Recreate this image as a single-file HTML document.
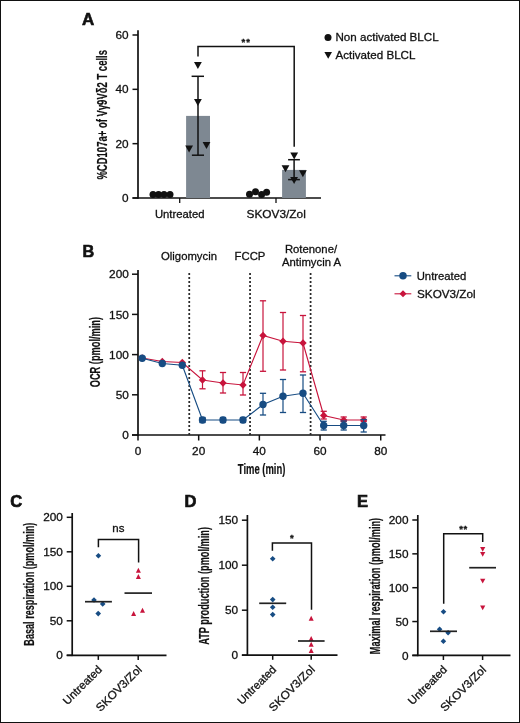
<!DOCTYPE html>
<html><head><meta charset="utf-8"><style>
html,body{margin:0;padding:0;background:#fff;}
.frame{position:relative;width:520px;height:723px;box-sizing:border-box;border:1px solid #111;overflow:hidden;background:#fff;}
svg{position:absolute;left:-1px;top:-1px;will-change:transform;}
text{font-family:"Liberation Sans", sans-serif;fill:#111;stroke:#111;stroke-width:0.3px;}
.cond{font-family:"Liberation Sans", sans-serif;font-weight:bold;stroke-width:0.2px;}
</style></head><body><div class="frame">
<svg width="520" height="723" viewBox="0 0 520 723">
<text x="81.9" y="24.6" font-size="16" font-weight="bold" style="stroke-width:0.6px" transform="translate(81.9,0) scale(1.06,1) translate(-81.9,0)">A</text>
<line x1="138" y1="30.3" x2="138" y2="198.8" stroke="#111" stroke-width="1.7" />
<line x1="132.5" y1="198" x2="321" y2="198" stroke="#111" stroke-width="1.7" />
<line x1="132.5" y1="198.0" x2="138" y2="198.0" stroke="#111" stroke-width="1.5" />
<text x="128.6" y="202.1" font-size="11.8" text-anchor="end" font-weight="normal" >0</text>
<line x1="132.5" y1="143.666" x2="138" y2="143.666" stroke="#111" stroke-width="1.5" />
<text x="128.6" y="147.766" font-size="11.8" text-anchor="end" font-weight="normal" >20</text>
<line x1="132.5" y1="89.33200000000001" x2="138" y2="89.33200000000001" stroke="#111" stroke-width="1.5" />
<text x="128.6" y="93.432" font-size="11.8" text-anchor="end" font-weight="normal" >40</text>
<line x1="132.5" y1="34.99800000000002" x2="138" y2="34.99800000000002" stroke="#111" stroke-width="1.5" />
<text x="128.6" y="39.09800000000002" font-size="11.8" text-anchor="end" font-weight="normal" >60</text>
<line x1="179.7" y1="198" x2="179.7" y2="203" stroke="#111" stroke-width="1.3" />
<line x1="276" y1="198" x2="276" y2="203" stroke="#111" stroke-width="1.3" />
<text x="179.7" y="217.6" font-size="11.3" text-anchor="middle" font-weight="normal" >Untreated</text>
<text x="276.2" y="217.6" font-size="11.5" text-anchor="middle" font-weight="normal" textLength="59.3" lengthAdjust="spacingAndGlyphs">SKOV3/Zol</text>
<text transform="translate(106.6,114.8) rotate(-90)" font-size="14.3" text-anchor="middle" textLength="129.6" lengthAdjust="spacingAndGlyphs" class="cond">%CD107a+ of V&#947;9V&#948;2 T cells</text>
<rect x="186.1" y="115.9" width="23.9" height="82.1" fill="#7e8892"/>
<rect x="282.1" y="169.9" width="23.8" height="28.1" fill="#7e8892"/>
<circle cx="153" cy="194.5" r="3.5" fill="#111"/>
<circle cx="158.5" cy="194.5" r="3.5" fill="#111"/>
<circle cx="164" cy="194.5" r="3.5" fill="#111"/>
<circle cx="170" cy="194.5" r="3.5" fill="#111"/>
<circle cx="249.5" cy="194.2" r="3.5" fill="#111"/>
<circle cx="255.5" cy="191.8" r="3.5" fill="#111"/>
<circle cx="261.6" cy="194.6" r="3.5" fill="#111"/>
<circle cx="266.6" cy="192.2" r="3.5" fill="#111"/>
<line x1="198" y1="76.3" x2="198" y2="155.2" stroke="#111" stroke-width="1.5" />
<line x1="191.6" y1="76.3" x2="204" y2="76.3" stroke="#111" stroke-width="1.5" />
<line x1="191.9" y1="155.2" x2="204" y2="155.2" stroke="#111" stroke-width="1.5" />
<line x1="294.1" y1="159.7" x2="294.1" y2="179.6" stroke="#111" stroke-width="1.5" />
<line x1="288.1" y1="159.7" x2="299.9" y2="159.7" stroke="#111" stroke-width="1.5" />
<line x1="288.1" y1="179.6" x2="299.9" y2="179.6" stroke="#111" stroke-width="1.5" />
<polygon points="194.0,62.099999999999994 201.8,62.099999999999994 197.9,69.1" fill="#111"/>
<polygon points="194.0,98.9 201.8,98.9 197.9,105.9" fill="#111"/>
<polygon points="185.2,145.5 193.0,145.5 189.1,152.5" fill="#111"/>
<polygon points="202.6,142.0 210.4,142.0 206.5,149.0" fill="#111"/>
<polygon points="290.3,152.5 298.09999999999997,152.5 294.2,159.5" fill="#111"/>
<polygon points="281.6,165.2 289.4,165.2 285.5,172.2" fill="#111"/>
<polygon points="299.0,170.2 306.79999999999995,170.2 302.9,177.2" fill="#111"/>
<polygon points="290.20000000000005,177.1 298.0,177.1 294.1,184.1" fill="#111"/>
<polyline points="198,56.5 198,46.5 294.2,46.5 294.2,146.8" fill="none" stroke="#111" stroke-width="1.5"/>
<text x="243.4" y="44.95" font-size="9.5" font-weight="bold" text-anchor="middle">*</text>
<text x="248.2" y="44.95" font-size="9.5" font-weight="bold" text-anchor="middle">*</text>
<circle cx="328" cy="37.6" r="3.5" fill="#111"/>
<text x="335.5" y="41.2" font-size="11.6" text-anchor="start" font-weight="normal" >Non activated BLCL</text>
<polygon points="324.4,52.0 332.0,52.0 328.2,58.8" fill="#111"/>
<text x="335.5" y="58.8" font-size="11.6" text-anchor="start" font-weight="normal" >Activated BLCL</text>
<text x="82.5" y="256.9" font-size="16.3" font-weight="bold" style="stroke-width:0.6px">B</text>
<line x1="138" y1="270" x2="138" y2="435.8" stroke="#111" stroke-width="1.7" />
<line x1="132" y1="435" x2="385.5" y2="435" stroke="#111" stroke-width="1.7" />
<line x1="132" y1="435.0" x2="138" y2="435.0" stroke="#111" stroke-width="1.5" />
<text x="128.8" y="439.1" font-size="11.8" text-anchor="end" font-weight="normal" >0</text>
<line x1="132" y1="394.8" x2="138" y2="394.8" stroke="#111" stroke-width="1.5" />
<text x="128.8" y="398.90000000000003" font-size="11.8" text-anchor="end" font-weight="normal" >50</text>
<line x1="132" y1="354.6" x2="138" y2="354.6" stroke="#111" stroke-width="1.5" />
<text x="128.8" y="358.70000000000005" font-size="11.8" text-anchor="end" font-weight="normal" >100</text>
<line x1="132" y1="314.4" x2="138" y2="314.4" stroke="#111" stroke-width="1.5" />
<text x="128.8" y="318.5" font-size="11.8" text-anchor="end" font-weight="normal" >150</text>
<line x1="132" y1="274.2" x2="138" y2="274.2" stroke="#111" stroke-width="1.5" />
<text x="128.8" y="278.3" font-size="11.8" text-anchor="end" font-weight="normal" >200</text>
<line x1="138.0" y1="435" x2="138.0" y2="440.5" stroke="#111" stroke-width="1.5" />
<text x="138.0" y="454.6" font-size="11.8" text-anchor="middle" font-weight="normal" >0</text>
<line x1="198.68" y1="435" x2="198.68" y2="440.5" stroke="#111" stroke-width="1.5" />
<text x="198.68" y="454.6" font-size="11.8" text-anchor="middle" font-weight="normal" >20</text>
<line x1="259.36" y1="435" x2="259.36" y2="440.5" stroke="#111" stroke-width="1.5" />
<text x="259.36" y="454.6" font-size="11.8" text-anchor="middle" font-weight="normal" >40</text>
<line x1="320.03999999999996" y1="435" x2="320.03999999999996" y2="440.5" stroke="#111" stroke-width="1.5" />
<text x="320.03999999999996" y="454.6" font-size="11.8" text-anchor="middle" font-weight="normal" >60</text>
<line x1="380.71999999999997" y1="435" x2="380.71999999999997" y2="440.5" stroke="#111" stroke-width="1.5" />
<text x="380.71999999999997" y="454.6" font-size="11.8" text-anchor="middle" font-weight="normal" >80</text>
<text transform="translate(261.6,473.5)" font-size="14.3" text-anchor="middle" textLength="47.6" lengthAdjust="spacingAndGlyphs" class="cond">Time (min)</text>
<text transform="translate(100,352.1) rotate(-90)" font-size="14.3" text-anchor="middle" textLength="70.4" lengthAdjust="spacingAndGlyphs" class="cond">OCR (pmol/min)</text>
<line x1="189.25" y1="273" x2="189.25" y2="435" stroke="#2a2a2a" stroke-width="1.75" stroke-dasharray="2.05,1.95"/>
<line x1="250.05" y1="273" x2="250.05" y2="435" stroke="#2a2a2a" stroke-width="1.75" stroke-dasharray="2.05,1.95"/>
<line x1="310.6" y1="273" x2="310.6" y2="435" stroke="#2a2a2a" stroke-width="1.75" stroke-dasharray="2.05,1.95"/>
<text x="189" y="260" font-size="11.3" text-anchor="middle" font-weight="normal" >Oligomycin</text>
<text x="250" y="259.5" font-size="11.3" text-anchor="middle" font-weight="normal" >FCCP</text>
<text x="311" y="252.6" font-size="11.3" text-anchor="middle" font-weight="normal" >Rotenone/</text>
<text x="311.5" y="266.3" font-size="11.3" text-anchor="middle" font-weight="normal" >Antimycin A</text>
<polyline points="142.2,358.0 162.3,361.5 182.3,362.5 202.5,380 223,383 243,385 263,335.5 283,341.3 303,343 323.7,415.5 343.7,420 363.7,420" fill="none" stroke="#c8143c" stroke-width="1.15"/>
<polygon points="142.2,354.3 145.89999999999998,358.0 142.2,361.7 138.5,358.0" fill="#c8143c"/>
<polygon points="162.3,357.8 166.0,361.5 162.3,365.2 158.60000000000002,361.5" fill="#c8143c"/>
<polygon points="182.3,358.8 186.0,362.5 182.3,366.2 178.60000000000002,362.5" fill="#c8143c"/>
<line x1="202.5" y1="370.8" x2="202.5" y2="388.8" stroke="#c8143c" stroke-width="1.2" />
<line x1="199.4" y1="370.8" x2="205.6" y2="370.8" stroke="#c8143c" stroke-width="1.3" />
<line x1="199.4" y1="388.8" x2="205.6" y2="388.8" stroke="#c8143c" stroke-width="1.3" />
<polygon points="202.5,376.3 206.2,380 202.5,383.7 198.8,380" fill="#c8143c"/>
<line x1="223" y1="372.5" x2="223" y2="393" stroke="#c8143c" stroke-width="1.2" />
<line x1="219.9" y1="372.5" x2="226.1" y2="372.5" stroke="#c8143c" stroke-width="1.3" />
<line x1="219.9" y1="393" x2="226.1" y2="393" stroke="#c8143c" stroke-width="1.3" />
<polygon points="223,379.3 226.7,383 223,386.7 219.3,383" fill="#c8143c"/>
<line x1="243" y1="372.5" x2="243" y2="395" stroke="#c8143c" stroke-width="1.2" />
<line x1="239.9" y1="372.5" x2="246.1" y2="372.5" stroke="#c8143c" stroke-width="1.3" />
<line x1="239.9" y1="395" x2="246.1" y2="395" stroke="#c8143c" stroke-width="1.3" />
<polygon points="243,381.3 246.7,385 243,388.7 239.3,385" fill="#c8143c"/>
<line x1="263" y1="300.8" x2="263" y2="371.3" stroke="#c8143c" stroke-width="1.2" />
<line x1="259.9" y1="300.8" x2="266.1" y2="300.8" stroke="#c8143c" stroke-width="1.3" />
<line x1="259.9" y1="371.3" x2="266.1" y2="371.3" stroke="#c8143c" stroke-width="1.3" />
<polygon points="263,331.8 266.7,335.5 263,339.2 259.3,335.5" fill="#c8143c"/>
<line x1="283" y1="312.5" x2="283" y2="370" stroke="#c8143c" stroke-width="1.2" />
<line x1="279.9" y1="312.5" x2="286.1" y2="312.5" stroke="#c8143c" stroke-width="1.3" />
<line x1="279.9" y1="370" x2="286.1" y2="370" stroke="#c8143c" stroke-width="1.3" />
<polygon points="283,337.6 286.7,341.3 283,345.0 279.3,341.3" fill="#c8143c"/>
<line x1="303" y1="315.5" x2="303" y2="371.8" stroke="#c8143c" stroke-width="1.2" />
<line x1="299.9" y1="315.5" x2="306.1" y2="315.5" stroke="#c8143c" stroke-width="1.3" />
<line x1="299.9" y1="371.8" x2="306.1" y2="371.8" stroke="#c8143c" stroke-width="1.3" />
<polygon points="303,339.3 306.7,343 303,346.7 299.3,343" fill="#c8143c"/>
<line x1="323.7" y1="411.3" x2="323.7" y2="419" stroke="#c8143c" stroke-width="1.2" />
<line x1="320.59999999999997" y1="411.3" x2="326.8" y2="411.3" stroke="#c8143c" stroke-width="1.3" />
<line x1="320.59999999999997" y1="419" x2="326.8" y2="419" stroke="#c8143c" stroke-width="1.3" />
<polygon points="323.7,411.8 327.4,415.5 323.7,419.2 320.0,415.5" fill="#c8143c"/>
<line x1="343.7" y1="417" x2="343.7" y2="421.5" stroke="#c8143c" stroke-width="1.2" />
<line x1="340.59999999999997" y1="417" x2="346.8" y2="417" stroke="#c8143c" stroke-width="1.3" />
<line x1="340.59999999999997" y1="421.5" x2="346.8" y2="421.5" stroke="#c8143c" stroke-width="1.3" />
<polygon points="343.7,416.3 347.4,420 343.7,423.7 340.0,420" fill="#c8143c"/>
<line x1="363.7" y1="417" x2="363.7" y2="421.5" stroke="#c8143c" stroke-width="1.2" />
<line x1="360.59999999999997" y1="417" x2="366.8" y2="417" stroke="#c8143c" stroke-width="1.3" />
<line x1="360.59999999999997" y1="421.5" x2="366.8" y2="421.5" stroke="#c8143c" stroke-width="1.3" />
<polygon points="363.7,416.3 367.4,420 363.7,423.7 360.0,420" fill="#c8143c"/>
<polyline points="142.2,358.3 162.3,363.5 182.3,365.2 202.5,420 223,420 243,420 263,404.5 283,396.3 303,393.3 323.7,425.5 343.7,425.5 363.7,425.5" fill="none" stroke="#174c83" stroke-width="1.15"/>
<circle cx="142.2" cy="358.3" r="3.7" fill="#174c83"/>
<circle cx="162.3" cy="363.5" r="3.7" fill="#174c83"/>
<circle cx="182.3" cy="365.2" r="3.7" fill="#174c83"/>
<line x1="202.5" y1="417.5" x2="202.5" y2="422.5" stroke="#174c83" stroke-width="1.2" />
<line x1="199.4" y1="417.5" x2="205.6" y2="417.5" stroke="#174c83" stroke-width="1.3" />
<line x1="199.4" y1="422.5" x2="205.6" y2="422.5" stroke="#174c83" stroke-width="1.3" />
<circle cx="202.5" cy="420" r="3.7" fill="#174c83"/>
<line x1="223" y1="417.5" x2="223" y2="422.5" stroke="#174c83" stroke-width="1.2" />
<line x1="219.9" y1="417.5" x2="226.1" y2="417.5" stroke="#174c83" stroke-width="1.3" />
<line x1="219.9" y1="422.5" x2="226.1" y2="422.5" stroke="#174c83" stroke-width="1.3" />
<circle cx="223" cy="420" r="3.7" fill="#174c83"/>
<line x1="243" y1="417.5" x2="243" y2="422.5" stroke="#174c83" stroke-width="1.2" />
<line x1="239.9" y1="417.5" x2="246.1" y2="417.5" stroke="#174c83" stroke-width="1.3" />
<line x1="239.9" y1="422.5" x2="246.1" y2="422.5" stroke="#174c83" stroke-width="1.3" />
<circle cx="243" cy="420" r="3.7" fill="#174c83"/>
<line x1="263" y1="393.3" x2="263" y2="415" stroke="#174c83" stroke-width="1.2" />
<line x1="259.9" y1="393.3" x2="266.1" y2="393.3" stroke="#174c83" stroke-width="1.3" />
<line x1="259.9" y1="415" x2="266.1" y2="415" stroke="#174c83" stroke-width="1.3" />
<circle cx="263" cy="404.5" r="3.7" fill="#174c83"/>
<line x1="283" y1="379.5" x2="283" y2="412.5" stroke="#174c83" stroke-width="1.2" />
<line x1="279.9" y1="379.5" x2="286.1" y2="379.5" stroke="#174c83" stroke-width="1.3" />
<line x1="279.9" y1="412.5" x2="286.1" y2="412.5" stroke="#174c83" stroke-width="1.3" />
<circle cx="283" cy="396.3" r="3.7" fill="#174c83"/>
<line x1="303" y1="375" x2="303" y2="412.5" stroke="#174c83" stroke-width="1.2" />
<line x1="299.9" y1="375" x2="306.1" y2="375" stroke="#174c83" stroke-width="1.3" />
<line x1="299.9" y1="412.5" x2="306.1" y2="412.5" stroke="#174c83" stroke-width="1.3" />
<circle cx="303" cy="393.3" r="3.7" fill="#174c83"/>
<line x1="323.7" y1="421.3" x2="323.7" y2="430" stroke="#174c83" stroke-width="1.2" />
<line x1="320.59999999999997" y1="421.3" x2="326.8" y2="421.3" stroke="#174c83" stroke-width="1.3" />
<line x1="320.59999999999997" y1="430" x2="326.8" y2="430" stroke="#174c83" stroke-width="1.3" />
<circle cx="323.7" cy="425.5" r="3.7" fill="#174c83"/>
<line x1="343.7" y1="421" x2="343.7" y2="430" stroke="#174c83" stroke-width="1.2" />
<line x1="340.59999999999997" y1="421" x2="346.8" y2="421" stroke="#174c83" stroke-width="1.3" />
<line x1="340.59999999999997" y1="430" x2="346.8" y2="430" stroke="#174c83" stroke-width="1.3" />
<circle cx="343.7" cy="425.5" r="3.7" fill="#174c83"/>
<line x1="363.7" y1="419.5" x2="363.7" y2="432" stroke="#174c83" stroke-width="1.2" />
<line x1="360.59999999999997" y1="419.5" x2="366.8" y2="419.5" stroke="#174c83" stroke-width="1.3" />
<line x1="360.59999999999997" y1="432" x2="366.8" y2="432" stroke="#174c83" stroke-width="1.3" />
<circle cx="363.7" cy="425.5" r="3.7" fill="#174c83"/>
<line x1="394.5" y1="275.8" x2="411.3" y2="275.8" stroke="#174c83" stroke-width="1.1" />
<circle cx="403" cy="275.8" r="3.75" fill="#174c83"/>
<text x="416.7" y="279.6" font-size="11.3" text-anchor="start" font-weight="normal" >Untreated</text>
<line x1="394.5" y1="293.8" x2="411.3" y2="293.8" stroke="#c8143c" stroke-width="1.1" />
<polygon points="403,290.3 406.5,293.8 403,297.3 399.5,293.8" fill="#c8143c"/>
<text x="417" y="297.6" font-size="11.5" text-anchor="start" font-weight="normal" textLength="58.6" lengthAdjust="spacingAndGlyphs">SKOV3/Zol</text>
<text x="10.2" y="506.6" font-size="16.5" font-weight="bold" style="stroke-width:0.7px">C</text>
<line x1="72.2" y1="513" x2="72.2" y2="656.0999999999999" stroke="#111" stroke-width="1.7" />
<line x1="66.7" y1="655.3" x2="166.5" y2="655.3" stroke="#111" stroke-width="1.7" />
<line x1="66.7" y1="655.3" x2="72.2" y2="655.3" stroke="#111" stroke-width="1.5" />
<text x="62.900000000000006" y="659.4" font-size="11.8" text-anchor="end" font-weight="normal" >0</text>
<line x1="66.7" y1="620.8" x2="72.2" y2="620.8" stroke="#111" stroke-width="1.5" />
<text x="62.900000000000006" y="624.9" font-size="11.8" text-anchor="end" font-weight="normal" >50</text>
<line x1="66.7" y1="586.3" x2="72.2" y2="586.3" stroke="#111" stroke-width="1.5" />
<text x="62.900000000000006" y="590.4" font-size="11.8" text-anchor="end" font-weight="normal" >100</text>
<line x1="66.7" y1="551.8" x2="72.2" y2="551.8" stroke="#111" stroke-width="1.5" />
<text x="62.900000000000006" y="555.9" font-size="11.8" text-anchor="end" font-weight="normal" >150</text>
<line x1="66.7" y1="517.3" x2="72.2" y2="517.3" stroke="#111" stroke-width="1.5" />
<text x="62.900000000000006" y="521.4" font-size="11.8" text-anchor="end" font-weight="normal" >200</text>
<line x1="98.3" y1="655.3" x2="98.3" y2="659.9" stroke="#111" stroke-width="1.5" />
<line x1="138.2" y1="655.3" x2="138.2" y2="659.9" stroke="#111" stroke-width="1.5" />
<text transform="translate(102.6,670.3) rotate(-45)" font-size="11.3" text-anchor="end">Untreated</text>
<text transform="translate(142.5,670.3) rotate(-45)" font-size="11.5" text-anchor="end" textLength="59.3" lengthAdjust="spacingAndGlyphs">SKOV3/Zol</text>
<text transform="translate(34,584.2) rotate(-90)" font-size="14.3" text-anchor="middle" textLength="123" lengthAdjust="spacingAndGlyphs" class="cond">Basal respiration (pmol/min)</text>
<polyline points="98.4,547.3 98.4,539.5 138.6,539.5 138.6,562.4" fill="none" stroke="#111" stroke-width="1.5"/>
<text x="118.4" y="531.8" font-size="11.5" text-anchor="middle" font-weight="normal" >ns</text>
<polygon points="98.4,553.0 101.2,555.8 98.4,558.5999999999999 95.60000000000001,555.8" fill="#174c83"/>
<polygon points="94,597.2 96.8,600 94,602.8 91.2,600" fill="#174c83"/>
<polygon points="102.7,601.1 105.5,603.9 102.7,606.6999999999999 99.9,603.9" fill="#174c83"/>
<polygon points="98.2,610.8000000000001 101.0,613.6 98.2,616.4 95.4,613.6" fill="#174c83"/>
<polygon points="135.9,572.7 140.9,572.7 138.4,567.7" fill="#c8143c"/>
<polygon points="135.9,579.0 140.9,579.0 138.4,574.0" fill="#c8143c"/>
<polygon points="131.1,615.9 136.1,615.9 133.6,610.9" fill="#c8143c"/>
<polygon points="140.0,612.8 145.0,612.8 142.5,607.8" fill="#c8143c"/>
<line x1="85" y1="601.7" x2="111.9" y2="601.7" stroke="#222" stroke-width="1.7" />
<line x1="124.5" y1="593.1" x2="152" y2="593.1" stroke="#222" stroke-width="1.7" />
<text x="184.5" y="506.6" font-size="16.5" font-weight="bold" style="stroke-width:0.7px">D</text>
<line x1="247.4" y1="515" x2="247.4" y2="656.0" stroke="#111" stroke-width="1.7" />
<line x1="241.9" y1="655.2" x2="337.5" y2="655.2" stroke="#111" stroke-width="1.7" />
<line x1="241.9" y1="655.2" x2="247.4" y2="655.2" stroke="#111" stroke-width="1.5" />
<text x="238.1" y="659.3000000000001" font-size="11.8" text-anchor="end" font-weight="normal" >0</text>
<line x1="241.9" y1="610.2" x2="247.4" y2="610.2" stroke="#111" stroke-width="1.5" />
<text x="238.1" y="614.3000000000001" font-size="11.8" text-anchor="end" font-weight="normal" >50</text>
<line x1="241.9" y1="565.2" x2="247.4" y2="565.2" stroke="#111" stroke-width="1.5" />
<text x="238.1" y="569.3000000000001" font-size="11.8" text-anchor="end" font-weight="normal" >100</text>
<line x1="241.9" y1="520.2" x2="247.4" y2="520.2" stroke="#111" stroke-width="1.5" />
<text x="238.1" y="524.3000000000001" font-size="11.8" text-anchor="end" font-weight="normal" >150</text>
<line x1="272.7" y1="655.2" x2="272.7" y2="659.8000000000001" stroke="#111" stroke-width="1.5" />
<line x1="311.2" y1="655.2" x2="311.2" y2="659.8000000000001" stroke="#111" stroke-width="1.5" />
<text transform="translate(277.0,670.2) rotate(-45)" font-size="11.3" text-anchor="end">Untreated</text>
<text transform="translate(315.5,670.2) rotate(-45)" font-size="11.5" text-anchor="end" textLength="59.3" lengthAdjust="spacingAndGlyphs">SKOV3/Zol</text>
<text transform="translate(208.9,585.9) rotate(-90)" font-size="14.3" text-anchor="middle" textLength="117.8" lengthAdjust="spacingAndGlyphs" class="cond">ATP production (pmol/min)</text>
<polyline points="272.4,550.8 272.4,542.9 311.5,542.9 311.5,609.8" fill="none" stroke="#111" stroke-width="1.5"/>
<text x="291.9" y="541.25" font-size="9.5" font-weight="bold" text-anchor="middle">*</text>
<polygon points="272.7,556.0 275.5,558.8 272.7,561.5999999999999 269.9,558.8" fill="#174c83"/>
<polygon points="272.7,596.8000000000001 275.5,599.6 272.7,602.4 269.9,599.6" fill="#174c83"/>
<polygon points="272.7,604.5 275.5,607.3 272.7,610.0999999999999 269.9,607.3" fill="#174c83"/>
<polygon points="272.7,611.8000000000001 275.5,614.6 272.7,617.4 269.9,614.6" fill="#174c83"/>
<polygon points="308.7,620.8 313.7,620.8 311.2,615.8" fill="#c8143c"/>
<polygon points="308.7,641.0 313.7,641.0 311.2,636.0" fill="#c8143c"/>
<polygon points="308.7,646.7 313.7,646.7 311.2,641.7" fill="#c8143c"/>
<polygon points="308.7,652.9 313.7,652.9 311.2,647.9" fill="#c8143c"/>
<line x1="259.2" y1="603.3" x2="286.2" y2="603.3" stroke="#222" stroke-width="1.7" />
<line x1="298" y1="641" x2="324.6" y2="641" stroke="#222" stroke-width="1.7" />
<text x="357.1" y="506.6" font-size="16.5" font-weight="bold" style="stroke-width:0.7px">E</text>
<line x1="417.8" y1="515" x2="417.8" y2="656.1999999999999" stroke="#111" stroke-width="1.7" />
<line x1="412.3" y1="655.4" x2="510.5" y2="655.4" stroke="#111" stroke-width="1.7" />
<line x1="412.3" y1="655.4" x2="417.8" y2="655.4" stroke="#111" stroke-width="1.5" />
<text x="408.5" y="659.5" font-size="11.8" text-anchor="end" font-weight="normal" >0</text>
<line x1="412.3" y1="621.55" x2="417.8" y2="621.55" stroke="#111" stroke-width="1.5" />
<text x="408.5" y="625.65" font-size="11.8" text-anchor="end" font-weight="normal" >50</text>
<line x1="412.3" y1="587.6999999999999" x2="417.8" y2="587.6999999999999" stroke="#111" stroke-width="1.5" />
<text x="408.5" y="591.8" font-size="11.8" text-anchor="end" font-weight="normal" >100</text>
<line x1="412.3" y1="553.8499999999999" x2="417.8" y2="553.8499999999999" stroke="#111" stroke-width="1.5" />
<text x="408.5" y="557.9499999999999" font-size="11.8" text-anchor="end" font-weight="normal" >150</text>
<line x1="412.3" y1="520.0" x2="417.8" y2="520.0" stroke="#111" stroke-width="1.5" />
<text x="408.5" y="524.1" font-size="11.8" text-anchor="end" font-weight="normal" >200</text>
<line x1="443.4" y1="655.4" x2="443.4" y2="660.0" stroke="#111" stroke-width="1.5" />
<line x1="482.6" y1="655.4" x2="482.6" y2="660.0" stroke="#111" stroke-width="1.5" />
<text transform="translate(447.7,670.4) rotate(-45)" font-size="11.3" text-anchor="end">Untreated</text>
<text transform="translate(486.90000000000003,670.4) rotate(-45)" font-size="11.5" text-anchor="end" textLength="59.3" lengthAdjust="spacingAndGlyphs">SKOV3/Zol</text>
<text transform="translate(380.3,586) rotate(-90)" font-size="14.3" text-anchor="middle" textLength="136.3" lengthAdjust="spacingAndGlyphs" class="cond">Maximal respiration (pmol/min)</text>
<polyline points="443.7,603.7 443.7,533.8 482.7,533.8 482.7,542.1" fill="none" stroke="#111" stroke-width="1.5"/>
<text x="461.1" y="531.95" font-size="9.5" font-weight="bold" text-anchor="middle">*</text>
<text x="465.4" y="531.95" font-size="9.5" font-weight="bold" text-anchor="middle">*</text>
<polygon points="443.5,608.9000000000001 446.3,611.7 443.5,614.5 440.7,611.7" fill="#174c83"/>
<polygon points="439.6,626.4000000000001 442.40000000000003,629.2 439.6,632.0 436.8,629.2" fill="#174c83"/>
<polygon points="448.1,630.0 450.90000000000003,632.8 448.1,635.5999999999999 445.3,632.8" fill="#174c83"/>
<polygon points="443.4,638.5 446.2,641.3 443.4,644.0999999999999 440.59999999999997,641.3" fill="#174c83"/>
<polygon points="480.09999999999997,546.9 485.3,546.9 482.7,551.6999999999999" fill="#c8143c"/>
<polygon points="480.09999999999997,552.0 485.3,552.0 482.7,556.8" fill="#c8143c"/>
<polygon points="480.09999999999997,578.8000000000001 485.3,578.8000000000001 482.7,583.6" fill="#c8143c"/>
<polygon points="480.09999999999997,605.5 485.3,605.5 482.7,610.3" fill="#c8143c"/>
<line x1="430" y1="631.3" x2="457" y2="631.3" stroke="#222" stroke-width="1.7" />
<line x1="469.2" y1="567.7" x2="496" y2="567.7" stroke="#222" stroke-width="1.7" />
</svg></div></body></html>
